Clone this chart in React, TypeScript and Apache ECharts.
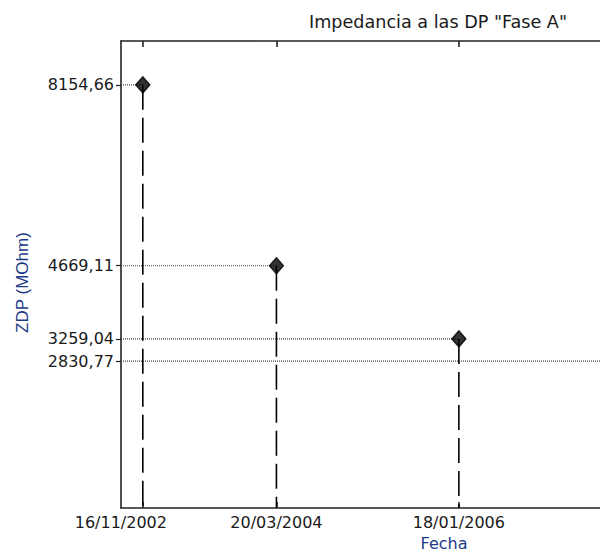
import React, { useEffect, useRef } from "react";
import * as echarts from "echarts";

const titleText = 'Impedancia a las DP "Fase A"';
const dates = ["2002-11-16", "2004-03-20", "2006-01-18"];
const values = [8154.66, 4669.11, 3259.04];
const threshold = 2830.77;
const xRange = ["2002-08-28", "2009-02-21"];
const yRange = [0, 9000];

const ts = (s: string) => {
  const [y, m, d] = s.split("-").map(Number);
  return Date.UTC(y, m - 1, d);
};
const pad = (n: number) => (n < 10 ? "0" + n : "" + n);
const fmtDate = (v: number) => {
  const d = new Date(v);
  return pad(d.getUTCDate()) + "/" + pad(d.getUTCMonth() + 1) + "/" + d.getUTCFullYear();
};
const fmtNum = (v: number) => v.toFixed(2).replace(".", ",");

export default function App() {
  const ref = useRef<HTMLDivElement>(null);
  useEffect(() => {
    if (!ref.current) return;
    const chart = echarts.init(ref.current, null, { renderer: "svg" });
    const xs = dates.map(ts);
    const xMin = ts(xRange[0]);
    const xMax = ts(xRange[1]);
    const font = "'DejaVu Sans', Verdana, sans-serif";
    const fontNarrow = "'Liberation Sans', Arial, sans-serif";
    const fs = 16;
    const nameColor = "#1c3a86";
    const axisColor = "#222";
    const textColor = "#1a1a1a";

    const series: any[] = [];
    xs.forEach((x, i) => {
      series.push({
        type: "line",
        data: [
          [x, values[i]],
          [x, yRange[0]],
        ],
        symbol: "none",
        lineStyle: { color: "#000", width: 1.6, type: [25, 8] },
        z: 2,
      });
      series.push({
        type: "line",
        data: [
          [xMin, values[i]],
          [x, values[i]],
        ],
        symbol: "none",
        lineStyle: { color: "#444", width: 1.2, type: [1, 1] },
        z: 2,
      });
    });
    series.push({
      type: "line",
      data: [
        [xMin, threshold],
        [xMax, threshold],
      ],
      symbol: "none",
      lineStyle: { color: "#444", width: 1.2, type: [1, 1] },
      z: 2,
    });
    series.push({
      type: "scatter",
      data: xs.map((x, i) => [x, values[i]]),
      symbol: "diamond",
      symbolSize: [14, 16],
      itemStyle: { color: "#000", borderColor: "#000", borderWidth: 1.5, borderJoin: "round" },
      z: 5,
    });

    chart.setOption({
      animation: false,
      textStyle: { fontFamily: font },
      title: {
        text: titleText,
        right: 28,
        top: 8,
        textStyle: { fontFamily: font, fontSize: 17.6, fontWeight: "normal", color: textColor },
      },
      grid: { left: 121, top: 41, right: -167, bottom: 46, containLabel: false, outerBoundsMode: "none" },
      xAxis: [
        {
          type: "value",
          min: xMin,
          max: xMax,
          position: "bottom",
          name: "Fecha",
          nameLocation: "middle",
          nameGap: 27,
          nameTextStyle: { color: nameColor, fontSize: fs, fontFamily: font },
          axisLine: { show: true, lineStyle: { color: axisColor, width: 1.6 } },
          axisTick: { show: true, inside: true, length: 6, customValues: xs, lineStyle: { color: axisColor, width: 1.6 } },
          axisLabel: {
            customValues: xs,
            margin: 6,
            color: textColor,
            fontSize: fs,
            fontFamily: font,
            formatter: (v: number) => (v === xs[0] ? "{first|" + fmtDate(v) + "}" : fmtDate(v)),
            rich: {
              first: { fontSize: fs, fontFamily: font, color: textColor, padding: [0, 44, 0, 0] },
            },
          },
          splitLine: { show: false },
        },
        {
          type: "value",
          min: xMin,
          max: xMax,
          position: "top",
          axisLine: { show: true, lineStyle: { color: axisColor, width: 1.6 } },
          axisTick: { show: true, inside: true, length: 6, customValues: xs, lineStyle: { color: axisColor, width: 1.6 } },
          axisLabel: { show: false },
          splitLine: { show: false },
        },
      ],
      yAxis: {
        type: "value",
        min: yRange[0],
        max: yRange[1],
        name: "ZDP (MOhm)",
        nameLocation: "middle",
        nameGap: 90,
        nameRotate: 90,
        nameTextStyle: { color: nameColor, fontSize: 17, fontFamily: fontNarrow, padding: [0, 16, 0, 0] },
        axisLine: { show: true, lineStyle: { color: axisColor, width: 1.6 } },
        axisTick: {
          show: true,
          inside: false,
          length: 5,
          customValues: [threshold, ...values],
          lineStyle: { color: axisColor, width: 1.2 },
        },
        axisLabel: {
          customValues: [threshold, ...values],
          margin: 7,
          color: textColor,
          fontSize: fs,
          fontFamily: font,
          formatter: (v: number) => fmtNum(v),
        },
        splitLine: { show: false },
      },
      series,
    });
    return () => chart.dispose();
  }, []);
  return (
    <div
      ref={ref}
      style={{ position: "absolute", left: 0, top: 0, width: 600, height: 554, background: "#fff" }}
    />
  );
}
